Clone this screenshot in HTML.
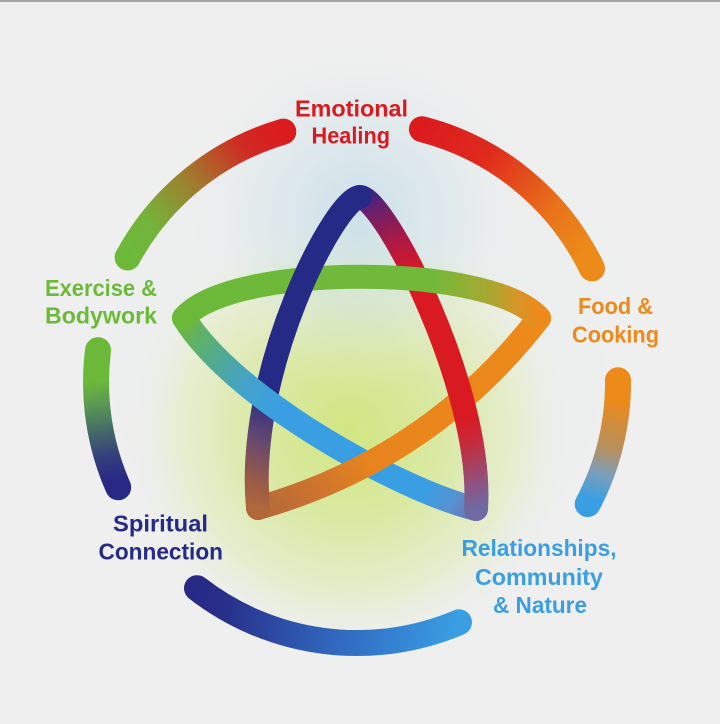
<!DOCTYPE html>
<html>
<head>
<meta charset="utf-8">
<style>
  html,body{margin:0;padding:0;background:#efefef;}
  body{width:720px;height:724px;overflow:hidden;}
  svg{display:block;}
  text{font-family:"Liberation Sans", Arial, sans-serif;font-weight:bold;font-size:23px;}
</style>
</head>
<body>
<svg width="720" height="724" viewBox="0 0 720 724" xmlns="http://www.w3.org/2000/svg">
  <defs>
    <radialGradient id="glowY" gradientUnits="userSpaceOnUse" cx="350" cy="430" r="225">
      <stop offset="0" stop-color="#d2e582"/>
      <stop offset="0.4" stop-color="#d9e9a2"/>
      <stop offset="0.75" stop-color="#e5edcc" stop-opacity="0.9"/>
      <stop offset="1" stop-color="#efefef" stop-opacity="0"/>
    </radialGradient>
    <radialGradient id="glowB" gradientUnits="userSpaceOnUse" cx="358" cy="215" r="175">
      <stop offset="0" stop-color="#c4dde9" stop-opacity="0.8"/>
      <stop offset="0.55" stop-color="#cfe2ea" stop-opacity="0.4"/>
      <stop offset="1" stop-color="#efefef" stop-opacity="0"/>
    </radialGradient>
    <radialGradient id="glowW" gradientUnits="userSpaceOnUse" cx="357" cy="360" r="300">
      <stop offset="0" stop-color="#e8eeea" stop-opacity="0.6"/>
      <stop offset="0.8" stop-color="#eaeeec" stop-opacity="0.4"/>
      <stop offset="1" stop-color="#efefef" stop-opacity="0"/>
    </radialGradient>

    <linearGradient id="gTL" gradientUnits="userSpaceOnUse" x1="127" y1="257" x2="283" y2="131">
      <stop offset="0" stop-color="#6cb93a"/>
      <stop offset="0.2" stop-color="#74b33a"/>
      <stop offset="0.5" stop-color="#a27a2f"/>
      <stop offset="0.8" stop-color="#d02a22"/>
      <stop offset="1" stop-color="#dc1b1f"/>
    </linearGradient>
    <linearGradient id="gTR" gradientUnits="userSpaceOnUse" x1="422" y1="129" x2="592" y2="268">
      <stop offset="0" stop-color="#dc1b1f"/>
      <stop offset="0.3" stop-color="#df2a1d"/>
      <stop offset="0.7" stop-color="#e8731a"/>
      <stop offset="0.92" stop-color="#ec8a1a"/>
      <stop offset="1" stop-color="#ec8a1a"/>
    </linearGradient>
    <linearGradient id="gR" gradientUnits="userSpaceOnUse" x1="618" y1="380" x2="588" y2="504">
      <stop offset="0" stop-color="#ec8a1a"/>
      <stop offset="0.15" stop-color="#ec8a1a"/>
      <stop offset="0.55" stop-color="#b49060"/>
      <stop offset="0.75" stop-color="#7a9ebc"/>
      <stop offset="0.95" stop-color="#3a9fe2"/>
    </linearGradient>
    <linearGradient id="gBo" gradientUnits="userSpaceOnUse" x1="197" y1="588" x2="459" y2="622">
      <stop offset="0" stop-color="#272985"/>
      <stop offset="0.12" stop-color="#28308a"/>
      <stop offset="0.45" stop-color="#2f5cb5"/>
      <stop offset="0.75" stop-color="#3480d0"/>
      <stop offset="1" stop-color="#3a9fe2"/>
    </linearGradient>
    <linearGradient id="gL" gradientUnits="userSpaceOnUse" x1="98" y1="350" x2="118" y2="487">
      <stop offset="0" stop-color="#6cb93a"/>
      <stop offset="0.22" stop-color="#6cb93a"/>
      <stop offset="0.4" stop-color="#5a9655"/>
      <stop offset="0.58" stop-color="#456a68"/>
      <stop offset="0.77" stop-color="#343f7c"/>
      <stop offset="0.95" stop-color="#272985"/>
    </linearGradient>

    <linearGradient id="kN" gradientUnits="userSpaceOnUse" x1="360" y1="198" x2="258" y2="508">
      <stop offset="0" stop-color="#262a87"/>
      <stop offset="0.66" stop-color="#262a87"/>
      <stop offset="0.8" stop-color="#654870"/>
      <stop offset="0.92" stop-color="#985a48"/>
      <stop offset="1" stop-color="#b0683a"/>
    </linearGradient>
    <linearGradient id="kO" gradientUnits="userSpaceOnUse" x1="258" y1="508" x2="539" y2="318">
      <stop offset="0" stop-color="#b3683a"/>
      <stop offset="0.15" stop-color="#c97230"/>
      <stop offset="0.35" stop-color="#e8841d"/>
      <stop offset="1" stop-color="#ec8a1a"/>
    </linearGradient>
    <linearGradient id="kG" gradientUnits="userSpaceOnUse" x1="539" y1="318" x2="184" y2="318">
      <stop offset="0" stop-color="#ec8a1a"/>
      <stop offset="0.06" stop-color="#d69526"/>
      <stop offset="0.14" stop-color="#a8a831"/>
      <stop offset="0.3" stop-color="#72b93a"/>
      <stop offset="1" stop-color="#6cb93a"/>
    </linearGradient>
    <linearGradient id="kB" gradientUnits="userSpaceOnUse" x1="184" y1="318" x2="476" y2="509">
      <stop offset="0" stop-color="#6cb83e"/>
      <stop offset="0.14" stop-color="#52aa90"/>
      <stop offset="0.26" stop-color="#42a2cc"/>
      <stop offset="0.37" stop-color="#3a9fe2"/>
      <stop offset="0.85" stop-color="#3a9fe2"/>
      <stop offset="0.94" stop-color="#5890d0"/>
      <stop offset="1" stop-color="#6a74b0"/>
    </linearGradient>
    <linearGradient id="kR" gradientUnits="userSpaceOnUse" x1="476" y1="509" x2="360" y2="198">
      <stop offset="0" stop-color="#6e6aa2"/>
      <stop offset="0.06" stop-color="#8a5688"/>
      <stop offset="0.13" stop-color="#a8405e"/>
      <stop offset="0.2" stop-color="#c8283a"/>
      <stop offset="0.27" stop-color="#da1a22"/>
      <stop offset="0.72" stop-color="#da1a22"/>
      <stop offset="0.8" stop-color="#c01838"/>
      <stop offset="0.9" stop-color="#8a1c58"/>
      <stop offset="0.97" stop-color="#5a2274"/>
      <stop offset="1" stop-color="#3a2680"/>
    </linearGradient>

    <clipPath id="cross">
      <circle cx="266" cy="397" r="32"/>
    </clipPath>
  </defs>

  <rect x="0" y="0" width="720" height="724" fill="#efefef"/>
  <rect x="0" y="0" width="720" height="2" fill="#a3a3a3"/>
  <circle cx="357" cy="360" r="300" fill="url(#glowW)"/>
  <circle cx="350" cy="430" r="225" fill="url(#glowY)"/>
  <circle cx="358" cy="215" r="175" fill="url(#glowB)"/>

  <g fill="none" stroke-width="26" stroke-linecap="round">
    <path d="M127.6,257.5 A261,261 0 0 1 283.3,131.6" stroke="url(#gTL)"/>
    <path d="M421.9,129.2 A261,261 0 0 1 592,268.4" stroke="url(#gTR)"/>
    <path d="M618,380.2 A261,261 0 0 1 587.7,504.1" stroke="url(#gR)"/>
    <path d="M459,622.3 A261,261 0 0 1 197,588.2" stroke="url(#gBo)"/>
    <path d="M118.2,487.3 A261,261 0 0 1 98,350.2" stroke="url(#gL)"/>
  </g>

  <g fill="none" stroke-width="24" stroke-linecap="round" stroke-linejoin="round">
    <path d="M184,318 C235,400 400,490 476,509" stroke="url(#kB)"/>
    <path d="M258,508 Q430,459 539,318" stroke="url(#kO)"/>
    <path d="M476,509 C484,390 384,197 360,197" stroke="url(#kR)"/>
    <path d="M539,318 C490,263 230,263 184,318" stroke="url(#kG)"/>
    <path d="M360,197 C336,197 245,370 258,508" stroke="url(#kN)"/>
    <g clip-path="url(#cross)">
      <path d="M184,318 C235,400 400,490 476,509" stroke="url(#kB)"/>
    </g>
  </g>

  <g>
    <text x="295" y="116.5" fill="#d91a21" textLength="113" lengthAdjust="spacingAndGlyphs">Emotional</text>
    <text x="311.5" y="143.5" fill="#d91a21" textLength="78.5" lengthAdjust="spacingAndGlyphs">Healing</text>

    <text x="578" y="314" fill="#ec8a1c" textLength="75" lengthAdjust="spacingAndGlyphs">Food &amp;</text>
    <text x="572" y="342.5" fill="#ec8a1c" textLength="87" lengthAdjust="spacingAndGlyphs">Cooking</text>

    <text x="45" y="296" fill="#6dba3a" textLength="112" lengthAdjust="spacingAndGlyphs">Exercise &amp;</text>
    <text x="45" y="323.5" fill="#6dba3a" textLength="112" lengthAdjust="spacingAndGlyphs">Bodywork</text>

    <text x="113" y="531.5" fill="#262a86" textLength="95" lengthAdjust="spacingAndGlyphs">Spiritual</text>
    <text x="98.5" y="559.5" fill="#262a86" textLength="124.5" lengthAdjust="spacingAndGlyphs">Connection</text>

    <text x="461.5" y="556" fill="#3a9fe2" textLength="155" lengthAdjust="spacingAndGlyphs">Relationships,</text>
    <text x="475" y="585" fill="#3a9fe2" textLength="128" lengthAdjust="spacingAndGlyphs">Community</text>
    <text x="493" y="613" fill="#3a9fe2" textLength="94" lengthAdjust="spacingAndGlyphs">&amp; Nature</text>
  </g>
</svg>
</body>
</html>
